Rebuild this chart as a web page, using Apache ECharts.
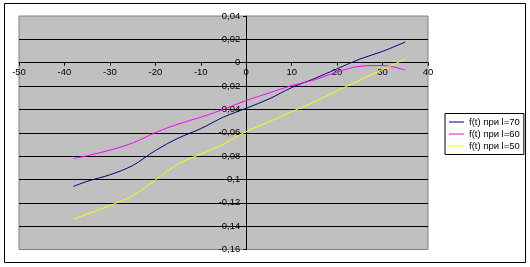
<!DOCTYPE html>
<html>
<head>
<meta charset="utf-8">
<script src="https://cdn.jsdelivr.net/npm/echarts@6/dist/echarts.min.js"></script>
<style>
  html, body { margin: 0; padding: 0; background: #fff; }
  #chart { width: 530px; height: 267px; }
</style>
</head>
<body>
<div id="chart"></div>
<script>
// значения t по оси X
const tValues = [-38, -35, -30, -25, -20, -15, -10, -5, 0, 5, 10, 15, 20, 25, 30, 35];

// f(t) при l=70
const f70 = [-0.106, -0.1016, -0.096, -0.0881, -0.0753, -0.0647, -0.0565, -0.0466,
  -0.039, -0.0311, -0.0213, -0.0136, -0.0052, 0.0031, 0.0097, 0.0177];
// f(t) при l=60
const f60 = [-0.082, -0.0797, -0.0749, -0.0688, -0.0599, -0.0526, -0.0467, -0.0399,
  -0.0324, -0.026, -0.0196, -0.0147, -0.008, -0.0031, -0.0024, -0.0064];
// f(t) при l=50
const f50 = [-0.134, -0.1297, -0.1224, -0.1139, -0.1006, -0.0869, -0.0783, -0.0697,
  -0.059, -0.0507, -0.0419, -0.0336, -0.0241, -0.0149, -0.0059, 0.0031];

const seriesNames = ['f(t) при l=70', 'f(t) при l=60', 'f(t) при l=50'];
const seriesColors = ['#000080', '#FF00FF', '#FFFF00'];

const font = 'Liberation Sans, Arial, sans-serif';

// размеры области построения
const gridLeft = 19, gridTop = 16, gridW = 409, gridH = 233.5;
const xMin = -50, xMax = 40, yMin = -0.16, yMax = 0.04;

// оси пересекаются в нуле (Excel-стиль) — сдвигаем линии осей
const xAxisOffset = -gridH * (0 - yMin) / (yMax - yMin);
const yAxisOffset = -gridW * (0 - xMin) / (xMax - xMin);

const toPairs = (ys) => tValues.map((t, i) => [t, ys[i]]);

const chart = echarts.init(document.getElementById('chart'));

chart.setOption({
  animation: false,
  backgroundColor: '#fff',
  textStyle: { fontFamily: font },
  graphic: [{
    type: 'rect',
    shape: { x: 4.5, y: 3.5, width: 521, height: 259 },
    style: { fill: 'none', stroke: '#000', lineWidth: 1 },
    z: -1
  }],
  grid: {
    left: gridLeft, top: gridTop, width: gridW, height: gridH,
    show: true,
    backgroundColor: '#C0C0C0',
    borderColor: '#808080',
    borderWidth: 1
  },
  legend: {
    orient: 'vertical',
    left: 445, top: 113.5,
    padding: [3, 4, 3, 4],
    backgroundColor: '#fff',
    borderColor: '#000',
    borderWidth: 1,
    borderRadius: 0,
    icon: 'rect',
    itemWidth: 15,
    itemHeight: 1,
    itemGap: 1,
    itemStyle: { borderWidth: 0 },
    textStyle: { fontFamily: font, fontSize: 9.5, color: '#000', lineHeight: 11 },
    data: seriesNames.map((name, i) => ({
      name,
      itemStyle: { color: seriesColors[i], borderWidth: 0 }
    }))
  },
  xAxis: {
    type: 'value',
    min: xMin, max: xMax, interval: 10,
    position: 'bottom',
    offset: xAxisOffset,
    axisLine: { onZero: false, lineStyle: { color: '#000', width: 1 } },
    axisTick: { show: true, inside: false, length: 3, lineStyle: { color: '#000' } },
    axisLabel: { fontFamily: font, fontSize: 9.5, color: '#000', margin: 5 },
    splitLine: { show: false }
  },
  yAxis: {
    type: 'value',
    min: yMin, max: yMax, interval: 0.02,
    position: 'left',
    offset: yAxisOffset,
    axisLine: { show: true, onZero: false, lineStyle: { color: '#000', width: 1 } },
    axisTick: { show: true, inside: false, length: 3, lineStyle: { color: '#000' } },
    axisLabel: {
      fontFamily: font, fontSize: 9.5, color: '#000', margin: 6,
      formatter: (v) => String(Math.round(v * 100) / 100).replace('.', ',')
    },
    splitLine: {
      show: true, showMinLine: false, showMaxLine: false,
      lineStyle: { color: '#000', width: 1 }
    }
  },
  series: [f70, f60, f50].map((ys, i) => ({
    name: seriesNames[i],
    type: 'line',
    data: toPairs(ys),
    smooth: 0.35,
    symbol: 'none',
    lineStyle: { color: seriesColors[i], width: 1 },
    itemStyle: { color: seriesColors[i] }
  }))
});
</script>
</body>
</html>
